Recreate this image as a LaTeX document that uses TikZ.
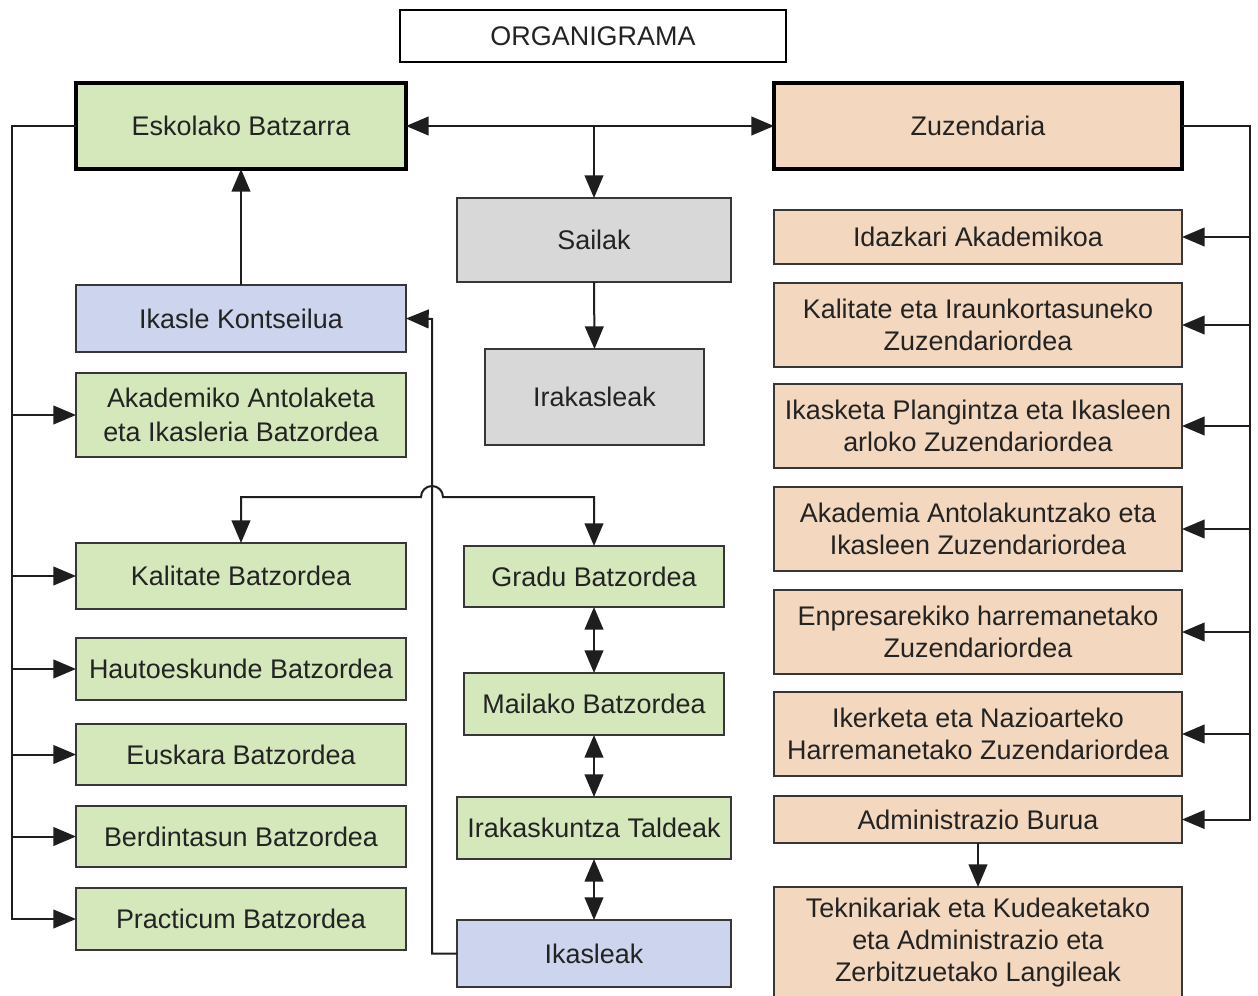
\documentclass[tikz,border=0pt]{standalone}
\usepackage{fontspec}
\setmainfont{Liberation Sans}
\usetikzlibrary{arrows.meta}
\definecolor{gfill}{RGB}{213,232,188}
\definecolor{pfill}{RGB}{243,215,190}
\definecolor{bfill}{RGB}{205,213,238}
\definecolor{grfill}{RGB}{216,216,216}
\definecolor{bord}{RGB}{55,55,55}
\definecolor{txt}{RGB}{35,35,35}
\definecolor{lin}{RGB}{30,30,30}
\tikzset{
  sz/.style 2 args={minimum width=#1*0.75pt, minimum height=#2*0.75pt},
  box/.style={draw=bord, line width=1.3pt, inner sep=2pt, outer sep=0pt, align=center,
    text=txt, font=\fontsize{20.2}{24}\selectfont},
  thick box/.style={box, draw=black, line width=3pt},
  gbox/.style={box, fill=gfill},
  pbox/.style={box, fill=pfill},
  bbox/.style={box, fill=bfill},
  grbox/.style={box, fill=grfill},
  conn/.style={draw=lin, line width=1.5pt},
  >={Triangle[length=17pt,width=14pt]}
}
\begin{document}
\begin{tikzpicture}[x=0.75pt,y=-0.75pt]
\clip (0,0) rectangle (1258,996);
\fill[white] (0,0) rectangle (1258,996);
% title
\node[box, draw=black, sz={386}{52}] (org) at (593,36) {ORGANIGRAMA};
% top
\node[thick box, fill=gfill, sz={330}{86}] (esk) at (241,126) {Eskolako Batzarra};
\node[thick box, fill=pfill, sz={408}{86}] (zuz) at (978,126) {Zuzendaria};
% centre
\node[grbox, sz={274}{84}] (sailak) at (594,240) {Sailak};
\node[grbox, sz={219}{96}] (irak) at (594.5,397) {Irakasleak};
% left column
\node[bbox, sz={330}{67}] (ikk) at (241,318.5) {Ikasle Kontseilua};
\node[gbox, sz={330}{84}, font=\fontsize{20.2}{26}\selectfont] (akad) at (241,415) {Akademiko Antolaketa\\eta Ikasleria Batzordea};
\node[gbox, sz={330}{66}] (kal) at (241,576) {Kalitate Batzordea};
\node[gbox, sz={330}{62}] (haut) at (241,669) {Hautoeskunde Batzordea};
\node[gbox, sz={330}{61}] (eusk) at (241,754.5) {Euskara Batzordea};
\node[gbox, sz={330}{61}] (berd) at (241,836.5) {Berdintasun Batzordea};
\node[gbox, sz={330}{62}] (prac) at (241,919) {Practicum Batzordea};
% middle column
\node[gbox, sz={260}{61}] (gradu) at (594,576.5) {Gradu Batzordea};
\node[gbox, sz={260}{62}] (mail) at (594,704) {Mailako Batzordea};
\node[gbox, sz={274}{62}] (irkt) at (594,828) {Irakaskuntza Taldeak};
\node[bbox, sz={274}{67}] (ikasl) at (594,953.5) {Ikasleak};
% right column
\node[pbox, sz={408}{54}] (idaz) at (978,237) {Idazkari Akademikoa};
\node[pbox, sz={408}{84}] (kalir) at (978,325) {Kalitate eta Iraunkortasuneko\\Zuzendariordea};
\node[pbox, sz={408}{84}] (ikasp) at (978,426) {Ikasketa Plangintza eta Ikasleen\\arloko Zuzendariordea};
\node[pbox, sz={408}{84}] (akadz) at (978,529) {Akademia Antolakuntzako eta\\Ikasleen Zuzendariordea};
\node[pbox, sz={408}{84}] (enpr) at (978,632) {Enpresarekiko harremanetako\\Zuzendariordea};
\node[pbox, sz={408}{84}] (iker) at (978,734) {Ikerketa eta Nazioarteko\\Harremanetako Zuzendariordea};
\node[pbox, sz={408}{47}] (admin) at (978,819.5) {Administrazio Burua};
\node[pbox, sz={408}{112}, anchor=north] (tekn) at (978,887) {Teknikariak eta Kudeaketako\\eta Administrazio eta\\Zerbitzuetako Langileak};
% coordinates
\coordinate (tm) at (594,126);
\coordinate (lt) at (12,126);
\coordinate (lbot) at (12,919);
\coordinate (rt) at (1250,126);
\coordinate (j1) at (421,497);
\coordinate (kb) at (432,319);
% connectors
\draw[conn,<->] (esk.east) -- (zuz.west);
\draw[conn,->] (tm) -- (sailak.north);
\draw[conn,->] (sailak.south) -- (irak.north);
\draw[conn,->] (ikk.north) -- (esk.south);
% left bus
\draw[conn,->] (esk.west) -- (lt) -- (lbot) -- (prac.west);
\foreach \n in {akad,kal,haut,eusk,berd}
  \draw[conn,->] (lt |- \n.west) -- (\n.west);
% jump connector
\draw[conn,<->] (kal.north) |- (j1) arc[start angle=180, end angle=0, radius=8.25pt] -| (gradu.north);
% Ikasleak to Ikasle Kontseilua
\draw[conn,->] (ikasl.west) -| (kb) -- (ikk.east);
% middle stack
\draw[conn,<->] (gradu.south) -- (mail.north);
\draw[conn,<->] (mail.south) -- (irkt.north);
\draw[conn,<->] (irkt.south) -- (ikasl.north);
% right bus
\draw[conn,->] (zuz.east) -- (rt) |- (admin.east);
\foreach \n in {idaz,kalir,ikasp,akadz,enpr,iker}
  \draw[conn,->] (rt |- \n.east) -- (\n.east);
\draw[conn,->] (admin.south) -- (tekn.north);
\end{tikzpicture}
\end{document}
